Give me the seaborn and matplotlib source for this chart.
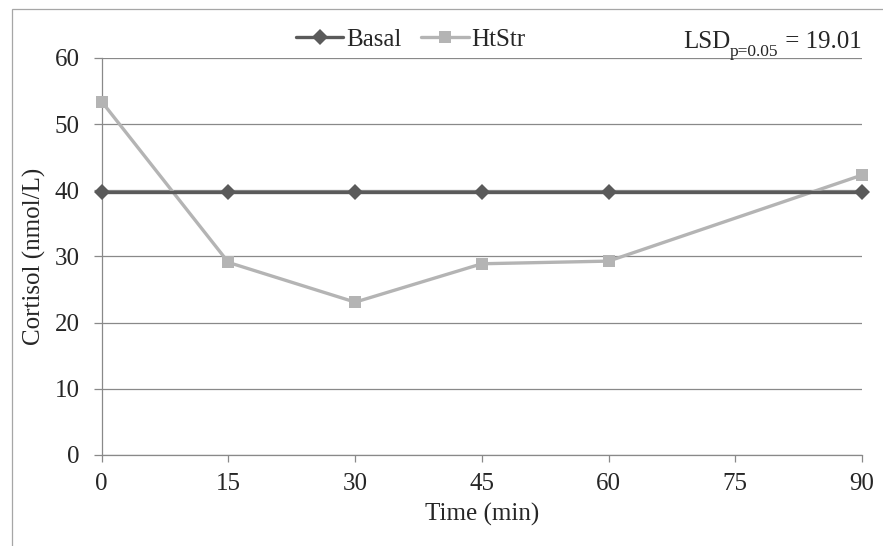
import pandas as pd
import matplotlib.pyplot as plt
import seaborn as sns
from matplotlib.patches import Rectangle
from matplotlib.transforms import offset_copy

# --- data ---
time_min = [0, 15, 30, 45, 60, 90]
basal = [39.8, 39.8, 39.8, 39.8, 39.8, 39.8]
htstr = [53.4, 29.1, 23.1, 28.9, 29.3, 42.3]
x_ticks = [0, 15, 30, 45, 60, 75, 90]
y_ticks = [0, 10, 20, 30, 40, 50, 60]
lsd_parts = ["LSD", "p=0.05", " = 19.01"]

sns.set_style("white")
plt.rcParams["font.family"] = "serif"
plt.rcParams["font.serif"] = ["Liberation Serif", "DejaVu Serif"]
plt.rcParams["font.size"] = 18

df = pd.DataFrame({"Time": time_min, "Basal": basal, "HtStr": htstr})

fig = plt.figure(figsize=(8.83, 5.46), dpi=100)
ax = fig.add_axes([0.1152, 0.1667, 0.8610, 0.7271])

grid_col = "#898989"

sns.lineplot(data=df, x="Time", y="Basal", ax=ax, color="#5a5a5a", lw=2.4,
             marker="D", markersize=8, markeredgewidth=0, label="Basal",
             clip_on=False, zorder=4)
sns.lineplot(data=df, x="Time", y="HtStr", ax=ax, color="#b4b4b4", lw=2.4,
             marker="s", markersize=9, markeredgewidth=0, label="HtStr",
             clip_on=False, zorder=3)

ax.set_xlim(0, 90)
ax.set_ylim(0, 60)
ax.set_xticks(x_ticks)
ax.set_yticks(y_ticks)
ax.yaxis.grid(True, color=grid_col, lw=0.9)
ax.set_axisbelow(True)
for s in ["top", "right"]:
    ax.spines[s].set_visible(False)
for s in ["left", "bottom"]:
    ax.spines[s].set_color(grid_col)
    ax.spines[s].set_linewidth(0.9)
ax.tick_params(axis="y", length=6, width=0.9, color=grid_col, pad=10, left=True)
ax.tick_params(axis="x", length=5, width=0.9, color=grid_col, pad=8, bottom=True)
ax.set_xlabel("Time (min)", labelpad=6)
ax.set_ylabel("Cortisol (nmol/L)", labelpad=6)

ax.legend(loc="center", bbox_to_anchor=(0.465, 0.927), bbox_transform=fig.transFigure,
          ncol=2, frameon=False, handlelength=1.9, handletextpad=0.1,
          columnspacing=0.8, fontsize=18)

# LSD label with a subscript, laid out piece by piece
renderer = fig.canvas.get_renderer()
x0, y0 = 683 / 883, 1 - 48 / 546
t1 = fig.text(x0, y0, lsd_parts[0], ha="left", va="baseline", fontsize=18)
w1 = t1.get_window_extent(renderer).width
tr2 = offset_copy(fig.transFigure, fig=fig, x=w1 * 72 / fig.dpi, y=-6, units="points")
t2 = fig.text(x0, y0, lsd_parts[1], ha="left", va="baseline", fontsize=12.5, transform=tr2)
w2 = t2.get_window_extent(renderer).width
tr3 = offset_copy(fig.transFigure, fig=fig, x=(w1 + w2) * 72 / fig.dpi, y=0, units="points")
fig.text(x0, y0, lsd_parts[2], ha="left", va="baseline", fontsize=18, transform=tr3)

# outer chart border (only top and left visible in the reference)
fig.patches.append(Rectangle((12 / 883, -0.1), 1.2, 1 - 9 / 546 + 0.1,
                             transform=fig.transFigure, fill=False,
                             edgecolor="#a6a6a6", lw=0.9))

fig.savefig("out.png", dpi=100)
